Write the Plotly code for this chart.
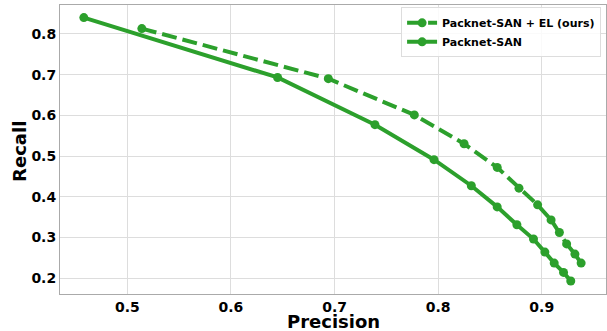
import plotly.graph_objects as go

# Packnet-SAN + EL (ours) -- dashed
el_precision = [0.514, 0.694, 0.777, 0.825, 0.857, 0.878, 0.896, 0.909, 0.917, 0.924, 0.932, 0.938]
el_recall = [0.813, 0.690, 0.601, 0.530, 0.472, 0.421, 0.380, 0.343, 0.312, 0.284, 0.259, 0.237]

# Packnet-SAN -- solid
base_precision = [0.458, 0.645, 0.739, 0.796, 0.832, 0.857, 0.876, 0.892, 0.903, 0.912, 0.921, 0.928]
base_recall = [0.840, 0.693, 0.577, 0.491, 0.427, 0.375, 0.331, 0.296, 0.264, 0.237, 0.214, 0.193]

x_ticks = [0.5, 0.6, 0.7, 0.8, 0.9]
y_ticks = [0.2, 0.3, 0.4, 0.5, 0.6, 0.7, 0.8]

green = "#2ca02c"
font_family = "DejaVu Sans"

fig = go.Figure()
fig.add_trace(go.Scatter(
    x=el_precision, y=el_recall, mode="lines+markers",
    name="Packnet-SAN + EL (ours)",
    line=dict(color=green, width=4, dash="15px,6px"),
    marker=dict(color=green, size=9),
))
fig.add_trace(go.Scatter(
    x=base_precision, y=base_recall, mode="lines+markers",
    name="Packnet-SAN",
    line=dict(color=green, width=4),
    marker=dict(color=green, size=9),
))

axis_common = dict(
    showgrid=True, gridcolor="#dddddd", gridwidth=1,
    showline=True, linecolor="#aaaaaa", linewidth=1, mirror=True,
    zeroline=False, ticks="", automargin=False,
    tickfont=dict(family=font_family, size=14, color="black", weight="bold"),
)

title_font = dict(size=18, family=font_family, color="black", weight="bold")

fig.update_layout(
    width=607, height=331,
    margin=dict(l=60, r=1, t=5, b=37),
    plot_bgcolor="white", paper_bgcolor="white",
    font=dict(family=font_family, color="black"),
    xaxis=dict(
        range=[0.435, 0.962], tickvals=x_ticks,
        ticktext=[f"{v:.1f}" for v in x_ticks],
        **axis_common,
    ),
    yaxis=dict(
        range=[0.161, 0.871], tickvals=y_ticks,
        ticktext=[f"{v:.1f}" for v in y_ticks],
        **axis_common,
    ),
    legend=dict(
        x=0.991, y=0.992, xanchor="right", yanchor="top",
        bgcolor="rgba(255,255,255,0.85)", bordercolor="#dddddd", borderwidth=1,
        font=dict(family=font_family, size=11, color="black", weight="bold"),
        tracegroupgap=0, itemwidth=30,
    ),
    showlegend=True,
    annotations=[
        dict(text="Precision", xref="paper", yref="paper", x=0.5, y=-0.094,
             xanchor="center", yanchor="middle", showarrow=False, font=title_font),
        dict(text="Recall", xref="paper", yref="paper", x=-0.0733, y=0.495,
             xanchor="center", yanchor="middle", textangle=-90, showarrow=False, font=title_font),
    ],
)

fig.write_html(
    "out.html",
    config={"displayModeBar": False},
    post_script="document.body.style.margin='0';document.body.style.overflow='hidden';",
)
